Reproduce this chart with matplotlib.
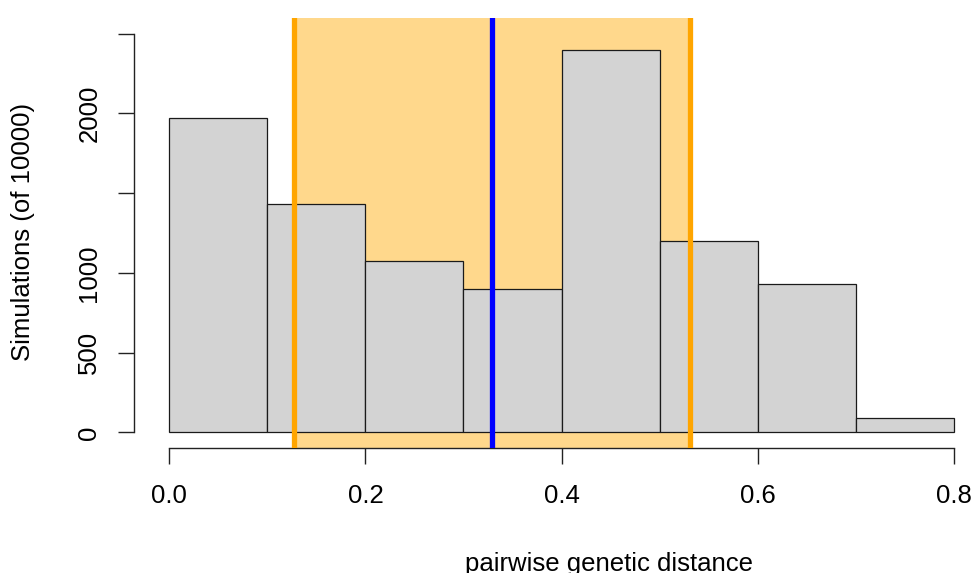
import matplotlib

matplotlib.use("Agg")
import matplotlib.pyplot as plt

# Histogram of pairwise genetic distance over 10000 simulations
BIN_EDGES = [0.0, 0.1, 0.2, 0.3, 0.4, 0.5, 0.6, 0.7, 0.8]
COUNTS = [1970, 1430, 1075, 900, 2395, 1200, 930, 88]

CI_LOW = 0.1276
CI_HIGH = 0.5310
OBSERVED = 0.3288

X_TICKS = [0.0, 0.2, 0.4, 0.6, 0.8]
X_TICK_LABELS = ["0.0", "0.2", "0.4", "0.6", "0.8"]
Y_TICKS = [0, 500, 1000, 1500, 2000, 2500]
Y_TICK_LABELS = ["0", "500", "1000", "", "2000", ""]

plt.rcParams["font.family"] = ["Liberation Sans", "DejaVu Sans"]
FS = 18.5

W, H = 974, 573
fig = plt.figure(figsize=(W / 100, H / 100), dpi=100)
ax = fig.add_axes([134 / W, (H - 448.3) / H, 953.1 / W, 430.7 / H])

ax.axvspan(CI_LOW, CI_HIGH, color="#FFD88C", lw=0, zorder=1)
ax.bar(BIN_EDGES[:-1], COUNTS, width=0.1, align="edge", color="#D3D3D3",
       edgecolor="#1a1a1a", lw=0.9, zorder=2)
ax.axvline(CI_LOW, color="#FFA500", lw=3.8, zorder=3)
ax.axvline(CI_HIGH, color="#FFA500", lw=3.8, zorder=3)
ax.axvline(OBSERVED, color="#0000FF", lw=3.8, zorder=3)

ax.set_xlim(-0.036, 0.936)
ax.set_ylim(-100, 2600)

for side in ("top", "right"):
    ax.spines[side].set_visible(False)
ax.spines["left"].set_bounds(0, 2500)
ax.spines["bottom"].set_bounds(0, 0.8)
for side in ("left", "bottom"):
    ax.spines[side].set_color("#222222")
    ax.spines[side].set_linewidth(1.0)

ax.set_xticks(X_TICKS)
ax.set_xticklabels(X_TICK_LABELS)
ax.set_yticks(Y_TICKS)
ax.set_yticklabels(Y_TICK_LABELS, rotation=90, va="center")
ax.tick_params(axis="both", length=11.5, width=1.0, color="#222222",
               labelsize=FS)
ax.tick_params(axis="x", pad=14)
ax.tick_params(axis="y", pad=12)

fig.text(23 / W, (H - 231.5) / H, "Simulations (of 10000)", rotation=90,
         ha="center", va="center", fontsize=FS)
fig.text(609 / W, (H - 571) / H, "pairwise genetic distance",
         ha="center", va="baseline", fontsize=FS)

fig.savefig("out.png", dpi=100)
